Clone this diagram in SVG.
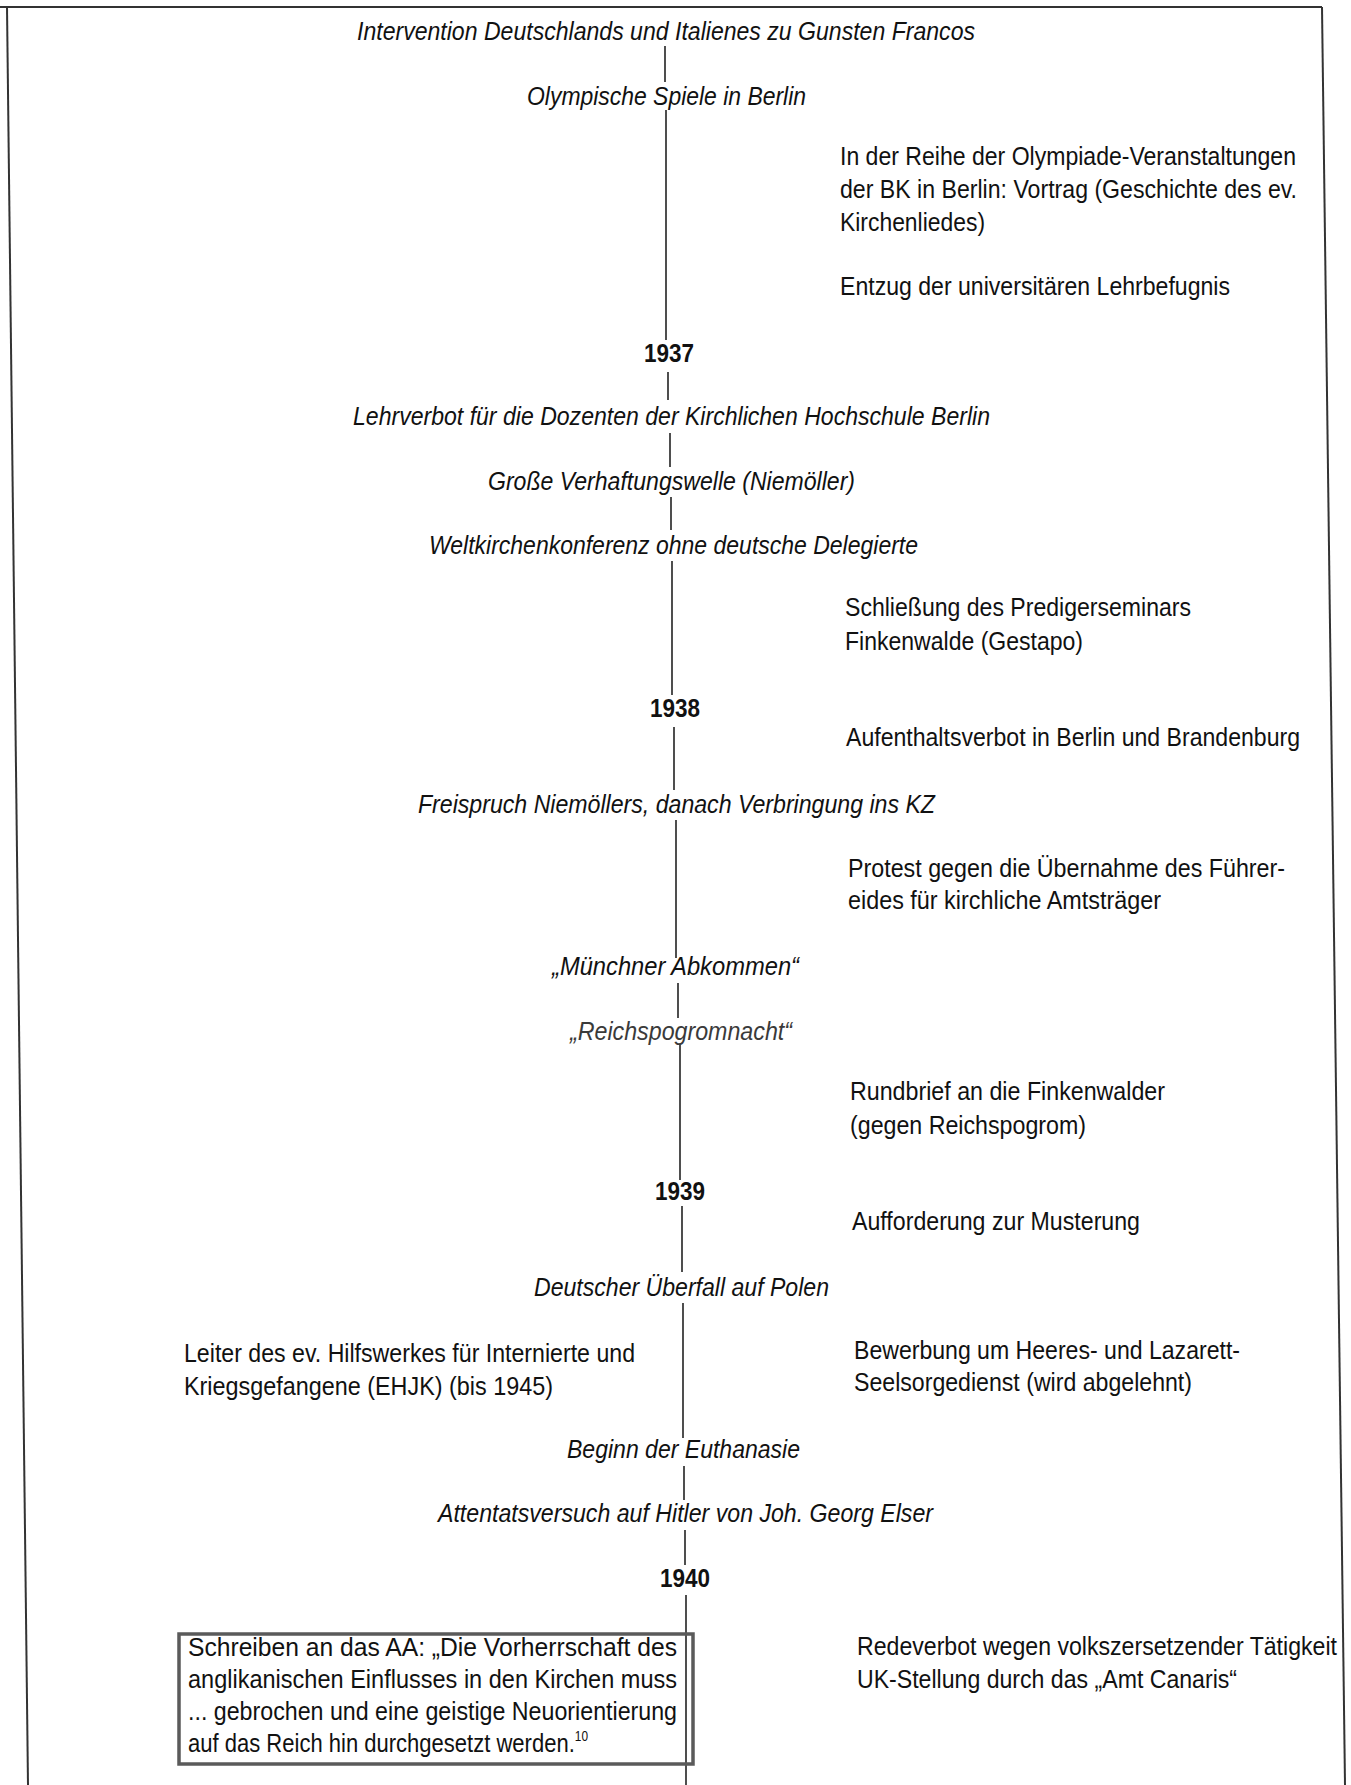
<svg xmlns="http://www.w3.org/2000/svg" width="1351" height="1785" viewBox="0 0 1351 1785">
<style>
text{font-family:"Liberation Sans",Arial,sans-serif;font-size:26px;fill:#111}
.ev{font-style:italic}
.yr{font-weight:bold}
.grey{fill:#3a3a3a}
.sup{font-size:14px}
.tl{stroke:#222;stroke-width:1.6;fill:none}
.frame{stroke:#333;stroke-width:2;fill:none}
.box{stroke:#5a5a5a;stroke-width:3.5;fill:none}
</style>
<g id="frame">
<line class="frame" x1="0" y1="7" x2="1322" y2="7"/>
<line class="frame" x1="7" y1="7" x2="28" y2="1785"/>
<line class="frame" x1="1322" y1="7" x2="1345" y2="1785"/>
</g>
<g id="connectors">
<line class="tl" x1="665" y1="46" x2="665" y2="82"/>
<line class="tl" x1="666" y1="110" x2="666" y2="340"/>
<line class="tl" x1="668" y1="372" x2="668" y2="400"/>
<line class="tl" x1="670" y1="433" x2="670" y2="467"/>
<line class="tl" x1="671" y1="497" x2="671" y2="530"/>
<line class="tl" x1="672" y1="561" x2="672" y2="695"/>
<line class="tl" x1="674" y1="727" x2="674" y2="790"/>
<line class="tl" x1="676" y1="820" x2="676" y2="958"/>
<line class="tl" x1="678" y1="983" x2="678" y2="1018"/>
<line class="tl" x1="680" y1="1045" x2="680" y2="1180"/>
<line class="tl" x1="682" y1="1206" x2="682" y2="1272"/>
<line class="tl" x1="683" y1="1303" x2="683" y2="1438"/>
<line class="tl" x1="684" y1="1466" x2="684" y2="1500"/>
<line class="tl" x1="685" y1="1530" x2="685" y2="1565"/>
<line class="tl" x1="686" y1="1595" x2="686" y2="1785"/>
</g>
<g id="n-intervention"><text class="ev" x="357" y="40" textLength="618" lengthAdjust="spacingAndGlyphs">Intervention Deutschlands und Italienes zu Gunsten Francos</text></g>
<g id="n-olympia"><text class="ev" x="527" y="105" textLength="279" lengthAdjust="spacingAndGlyphs">Olympische Spiele in Berlin</text></g>
<g id="n-vortrag">
<text x="840" y="165" textLength="456" lengthAdjust="spacingAndGlyphs">In der Reihe der Olympiade-Veranstaltungen</text>
<text x="840" y="198" textLength="457" lengthAdjust="spacingAndGlyphs">der BK in Berlin: Vortrag (Geschichte des ev.</text>
<text x="840" y="231" textLength="145" lengthAdjust="spacingAndGlyphs">Kirchenliedes)</text>
</g>
<g id="n-entzug"><text x="840" y="295" textLength="390" lengthAdjust="spacingAndGlyphs">Entzug der universitären Lehrbefugnis</text></g>
<g id="y1937"><text class="yr" x="644" y="362" textLength="50" lengthAdjust="spacingAndGlyphs">1937</text></g>
<g id="n-lehrverbot"><text class="ev" x="353" y="425" textLength="637" lengthAdjust="spacingAndGlyphs">Lehrverbot für die Dozenten der Kirchlichen Hochschule Berlin</text></g>
<g id="n-verhaftung"><text class="ev" x="488" y="490" textLength="367" lengthAdjust="spacingAndGlyphs">Große Verhaftungswelle (Niemöller)</text></g>
<g id="n-weltkirchen"><text class="ev" x="429" y="554" textLength="489" lengthAdjust="spacingAndGlyphs">Weltkirchenkonferenz ohne deutsche Delegierte</text></g>
<g id="n-schliessung">
<text x="845" y="616" textLength="346" lengthAdjust="spacingAndGlyphs">Schließung des Predigerseminars</text>
<text x="845" y="650" textLength="238" lengthAdjust="spacingAndGlyphs">Finkenwalde (Gestapo)</text>
</g>
<g id="y1938"><text class="yr" x="650" y="717" textLength="50" lengthAdjust="spacingAndGlyphs">1938</text></g>
<g id="n-aufenthalt"><text x="846" y="746" textLength="454" lengthAdjust="spacingAndGlyphs">Aufenthaltsverbot in Berlin und Brandenburg</text></g>
<g id="n-freispruch"><text class="ev" x="418" y="813" textLength="517" lengthAdjust="spacingAndGlyphs">Freispruch Niemöllers, danach Verbringung ins KZ</text></g>
<g id="n-protest">
<text x="848" y="877" textLength="437" lengthAdjust="spacingAndGlyphs">Protest gegen die Übernahme des Führer-</text>
<text x="848" y="909" textLength="313" lengthAdjust="spacingAndGlyphs">eides für kirchliche Amtsträger</text>
</g>
<g id="n-muenchen"><text class="ev" x="552" y="975" textLength="247" lengthAdjust="spacingAndGlyphs">„Münchner Abkommen“</text></g>
<g id="n-pogrom"><text class="ev grey" x="570" y="1040" textLength="222" lengthAdjust="spacingAndGlyphs">„Reichspogromnacht“</text></g>
<g id="n-rundbrief">
<text x="850" y="1100" textLength="315" lengthAdjust="spacingAndGlyphs">Rundbrief an die Finkenwalder</text>
<text x="850" y="1134" textLength="236" lengthAdjust="spacingAndGlyphs">(gegen Reichspogrom)</text>
</g>
<g id="y1939"><text class="yr" x="655" y="1200" textLength="50" lengthAdjust="spacingAndGlyphs">1939</text></g>
<g id="n-musterung"><text x="852" y="1230" textLength="288" lengthAdjust="spacingAndGlyphs">Aufforderung zur Musterung</text></g>
<g id="n-polen"><text class="ev" x="534" y="1296" textLength="295" lengthAdjust="spacingAndGlyphs">Deutscher Überfall auf Polen</text></g>
<g id="n-hilfswerk">
<text x="184" y="1362" textLength="451" lengthAdjust="spacingAndGlyphs">Leiter des ev. Hilfswerkes für Internierte und</text>
<text x="184" y="1395" textLength="369" lengthAdjust="spacingAndGlyphs">Kriegsgefangene (EHJK) (bis 1945)</text>
</g>
<g id="n-bewerbung">
<text x="854" y="1359" textLength="386" lengthAdjust="spacingAndGlyphs">Bewerbung um Heeres- und Lazarett-</text>
<text x="854" y="1391" textLength="338" lengthAdjust="spacingAndGlyphs">Seelsorgedienst (wird abgelehnt)</text>
</g>
<g id="n-euthanasie"><text class="ev" x="567" y="1458" textLength="233" lengthAdjust="spacingAndGlyphs">Beginn der Euthanasie</text></g>
<g id="n-elser"><text class="ev" x="438" y="1522" textLength="495" lengthAdjust="spacingAndGlyphs">Attentatsversuch auf Hitler von Joh. Georg Elser</text></g>
<g id="y1940"><text class="yr" x="660" y="1587" textLength="50" lengthAdjust="spacingAndGlyphs">1940</text></g>
<g id="n-schreiben">
<rect class="box" x="179" y="1634" width="514" height="130" fill="#fff"/>
<text x="188" y="1656" textLength="489" lengthAdjust="spacingAndGlyphs">Schreiben an das AA: „Die Vorherrschaft des</text>
<text x="188" y="1688" textLength="489" lengthAdjust="spacingAndGlyphs">anglikanischen Einflusses in den Kirchen muss</text>
<text x="188" y="1720" textLength="489" lengthAdjust="spacingAndGlyphs">... gebrochen und eine geistige Neuorientierung</text>
<text x="188" y="1752" textLength="400" lengthAdjust="spacingAndGlyphs">auf das Reich hin durchgesetzt werden.<tspan class="sup" dy="-11">10</tspan></text>
</g>
<g id="n-redeverbot">
<text x="857" y="1655" textLength="480" lengthAdjust="spacingAndGlyphs">Redeverbot wegen volkszersetzender Tätigkeit</text>
<text x="857" y="1688" textLength="380" lengthAdjust="spacingAndGlyphs">UK-Stellung durch das „Amt Canaris“</text>
</g>
</svg>
